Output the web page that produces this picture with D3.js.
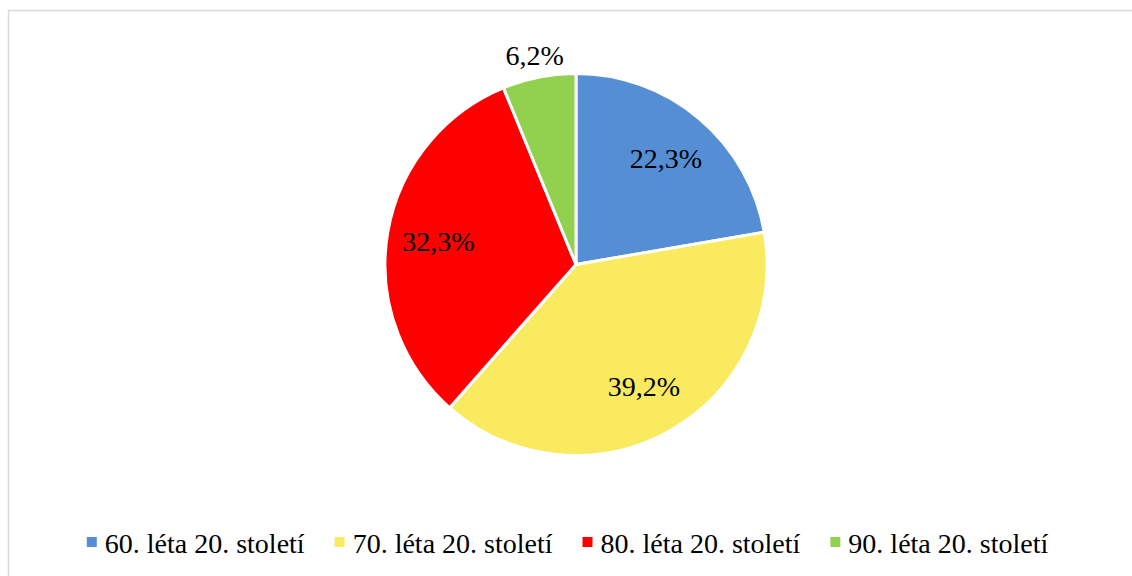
<!DOCTYPE html>
<html><head><meta charset="utf-8">
<script src="https://cdn.jsdelivr.net/npm/d3@7"></script>
<style>html,body{margin:0;padding:0;background:#fff;overflow:hidden}</style>
</head><body>
<svg id="c" width="1132" height="576"></svg>
<script>
const categories = ["60. léta 20. století", "70. léta 20. století", "80. léta 20. století", "90. léta 20. století"];
const values = [22.3, 39.2, 32.3, 6.2];
const labels = ["22,3%", "39,2%", "32,3%", "6,2%"];
const colors = ["#558ED5", "#F9EA60", "#FF0000", "#92D050"];

const W = 1132, H = 576;
const FONT = '"Liberation Serif"';
const svg = d3.select("#c");

// chart frame
svg.append("rect").attr("x", 8.5).attr("y", 10.5).attr("width", W + 20).attr("height", H + 20)
  .attr("fill", "#fff").attr("stroke", "#d9d9d9").attr("stroke-width", 1.5);

const cx = 576, cy = 264.5, r = 191;
const pie = d3.pie().sort(null).value(d => d);
const arcs = pie(values);
const arc = d3.arc().innerRadius(0).outerRadius(r);
const g = svg.append("g").attr("transform", `translate(${cx},${cy})`);

g.selectAll("path").data(arcs).enter().append("path")
  .attr("d", arc)
  .attr("fill", (d, i) => colors[i])
  .attr("stroke", "#fff").attr("stroke-width", 3).attr("stroke-linejoin", "round");

const inArc = d3.arc().innerRadius(r * 0.73).outerRadius(r * 0.73);
const outArc = d3.arc().innerRadius(r + 22).outerRadius(r + 22);
g.selectAll("text.lbl").data(arcs).enter().append("text")
  .attr("class", "lbl")
  .attr("transform", (d, i) => {
    const p = (d.endAngle - d.startAngle) < 0.5 ? outArc.centroid(d) : inArc.centroid(d);
    return `translate(${p[0]},${p[1]})`;
  })
  .attr("text-anchor", "middle").attr("dy", "0.35em")
  .attr("font-family", FONT).attr("font-size", 28).attr("fill", "#000")
  .text((d, i) => labels[i]);

// legend
const leg = svg.append("g");
const fs = 28, sq = 10, gapSqText = 8, gapItem = 30;
const items = leg.selectAll("g").data(categories).enter().append("g");
items.append("rect").attr("width", sq).attr("height", sq).attr("y", -sq - 6)
  .attr("fill", (d, i) => colors[i]);
items.append("text").attr("x", sq + gapSqText).attr("y", 0)
  .attr("font-family", FONT).attr("font-size", fs).attr("fill", "#000")
  .text(d => d);
let x = 0;
const pos = [];
items.each(function () {
  const w = this.querySelector("text").getComputedTextLength();
  pos.push(x);
  x += sq + gapSqText + w + gapItem;
});
const total = x - gapItem;
const x0 = 567.5 - total / 2;
items.attr("transform", (d, i) => `translate(${x0 + pos[i]},553)`);
</script>
</body></html>
